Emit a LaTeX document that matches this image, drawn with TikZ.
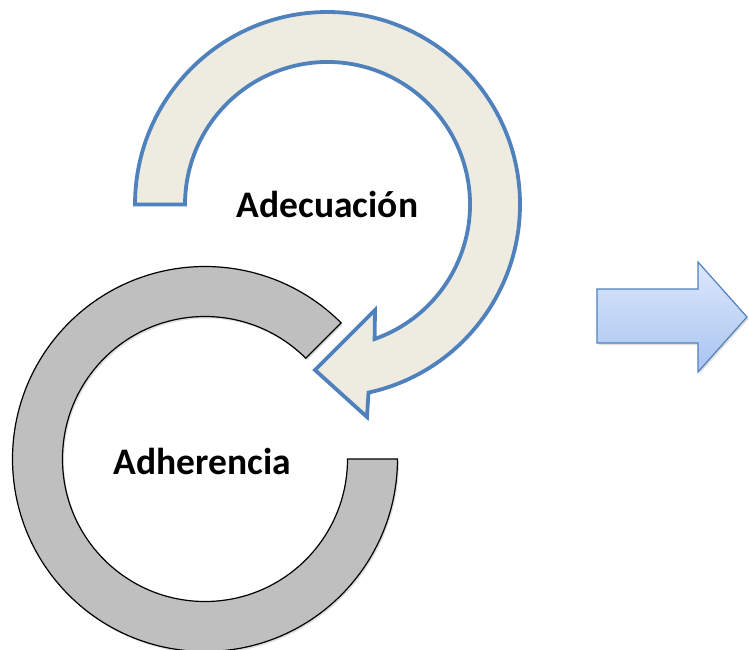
\documentclass[tikz,border=0pt]{standalone}
\usepackage{fontspec}
\setmainfont{Carlito}
\usetikzlibrary{shadows}
\definecolor{adeqfill}{HTML}{EEECE1}
\definecolor{adeqline}{HTML}{4F81BD}
\definecolor{ringfill}{HTML}{BFBFBF}
\definecolor{arrtop}{HTML}{DCE7FB}
\definecolor{arrbot}{HTML}{A9C4F1}
\tikzset{
  adeq/.style={fill=adeqfill, draw=adeqline, line width=3.8pt, line join=miter},
  ring/.style={fill=ringfill, draw=black, line width=1.2pt,
    drop shadow={shadow xshift=1.5pt, shadow yshift=-2pt, opacity=0.25}},
  bigarrow/.style={top color=arrtop, bottom color=arrbot, draw=adeqline, line width=1.2pt,
    drop shadow={shadow xshift=1.5pt, shadow yshift=-2pt, opacity=0.25}},
  lbl/.style={font=\fontsize{37.5}{42}\selectfont\bfseries, text=black}
}
\begin{document}
\begin{tikzpicture}[x=1pt,y=1pt]
\useasboundingbox (0,0) rectangle (749,649);
\coordinate (A) at (327.5,444.5);
\coordinate (B) at (205,190);
% gray ring
\draw[ring] ([shift={(B)}]45:192.5) arc[start angle=45, end angle=360, radius=192.5]
  -- ([shift={(B)}]0:142.5) arc[start angle=360, end angle=45, radius=142.5] -- cycle;
% circular arrow
\draw[adeq] ([shift={(A)}]180:192.5) arc[start angle=180, end angle=-77.7, radius=192.5]
  -- (367,232) -- (315,279) -- (375,339)
  -- ([shift={(A)}]-70.7:142.5) arc[start angle=-70.7, end angle=180, radius=142.5] -- cycle;
% right block arrow
\draw[bigarrow] (597,360) -- (698,360) -- (698,387) -- (747,332) -- (698,277) -- (698,306) -- (597,306) -- cycle;
\node[lbl] (adeq) at (A) {Adecuación};
\node[lbl] (adher) at (202.5,188) {Adherencia};
\end{tikzpicture}
\end{document}
